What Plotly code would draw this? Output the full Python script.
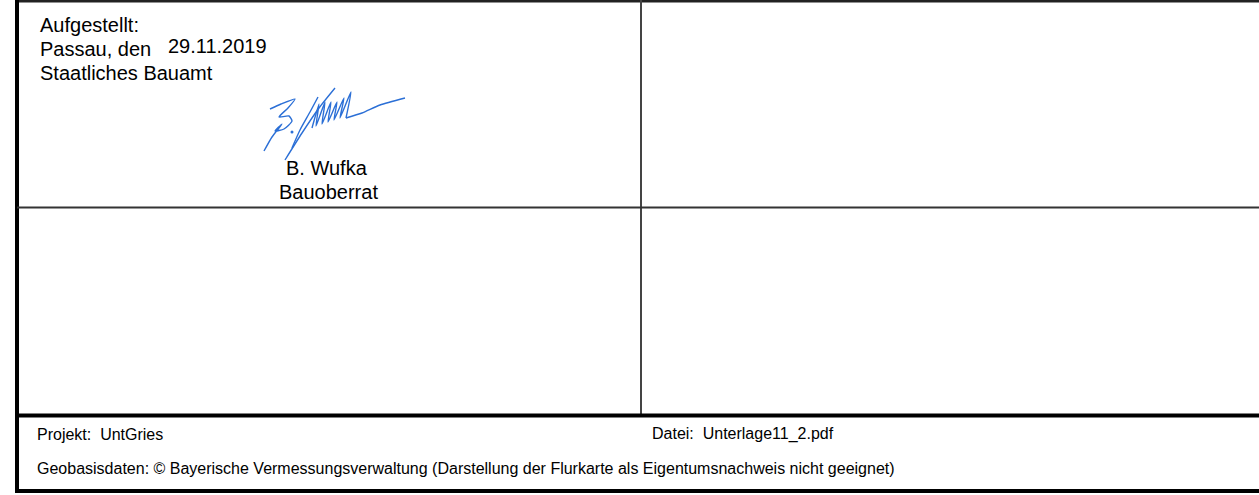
import plotly.graph_objects as go

W, H = 1259, 495

# Text content of the title block
header_lines = ["Aufgestellt:", "Passau, den", "Staatliches Bauamt"]
date_text = "29.11.2019"
signer_lines = ["B. Wufka", "Bauoberrat"]
project_label = "Projekt:  UntGries"
file_label = "Datei:  Unterlage11_2.pdf"
source_note = ("Geobasisdaten: © Bayerische Vermessungsverwaltung "
               "(Darstellung der Flurkarte als Eigentumsnachweis nicht geeignet)")

# Signature strokes (hand-drawn polyline traces, pixel space)
sig_b_x = [270, 281, 295, 288, 279, 289, 292, 284, 275, 282, 272, 264]
sig_b_y = [109, 104, 99, 108, 117, 116, 121, 129, 131, 124, 137, 151]
sig_j1_x = [335, 319, 302, 285]
sig_j1_y = [88, 108, 133, 160]
sig_j2_x = [318, 310, 300, 292]
sig_j2_y = [97, 112, 130, 148]
sig_u_x = [312, 319, 316, 325, 322, 331, 328, 337, 334, 344, 340, 351, 346]
sig_u_y = [128, 104, 126, 102, 124, 102, 122, 102, 120, 98, 118, 92, 118]
sig_t_x = [346, 362, 380, 405]
sig_t_y = [118, 113, 105, 98]
sig_dot_x = [292]
sig_dot_y = [132]

fig = go.Figure()
sig_color = "#2b6fd6"
for xs, ys in [(sig_b_x, sig_b_y), (sig_j1_x, sig_j1_y), (sig_j2_x, sig_j2_y),
               (sig_u_x, sig_u_y), (sig_t_x, sig_t_y)]:
    fig.add_trace(go.Scatter(x=xs, y=ys, mode="lines",
                             line=dict(color=sig_color, width=1.4, shape="spline", smoothing=0.6),
                             hoverinfo="skip", showlegend=False))
fig.add_trace(go.Scatter(x=sig_dot_x, y=sig_dot_y, mode="markers",
                         marker=dict(color=sig_color, size=3), hoverinfo="skip", showlegend=False))

# Frame lines
left_x = 17
mid_x = 641
row1_y = 207.5
row2_y = 415.5
bottom_y = 491
shapes = [
    dict(type="line", x0=left_x - 2, x1=W, y0=1, y1=1, line=dict(color="#222", width=3)),
    dict(type="line", x0=left_x, x1=left_x, y0=0, y1=bottom_y + 2, line=dict(color="#000", width=4)),
    dict(type="line", x0=mid_x, x1=mid_x, y0=0, y1=row2_y, line=dict(color="#444", width=2)),
    dict(type="line", x0=left_x, x1=W, y0=row1_y, y1=row1_y, line=dict(color="#333", width=2)),
    dict(type="line", x0=left_x - 2, x1=W, y0=row2_y, y1=row2_y, line=dict(color="#000", width=4)),
    dict(type="line", x0=left_x - 2, x1=W, y0=bottom_y, y1=bottom_y, line=dict(color="#000", width=4)),
]

font = "Liberation Sans, Arial, sans-serif"
ann = []
def add_text(txt, x, y, size, xanchor="left"):
    ann.append(dict(text=txt, x=x, y=y, xref="x", yref="y", showarrow=False,
                    xanchor=xanchor, yanchor="middle",
                    font=dict(family=font, size=size, color="#000")))

add_text(header_lines[0], 38, 24.5, 20)
add_text(header_lines[1], 38, 48.5, 20)
add_text(date_text, 166, 46, 20)
add_text(header_lines[2], 38, 72.5, 20)
add_text(signer_lines[0], 327, 167.5, 20, "center")
add_text(signer_lines[1], 328, 192, 20, "center")
add_text(project_label, 35, 434, 16)
add_text(file_label, 650, 434, 16)
add_text(source_note, 35, 468, 16)

fig.update_layout(
    width=W, height=H, margin=dict(l=0, r=0, t=0, b=0),
    paper_bgcolor="white", plot_bgcolor="white",
    xaxis=dict(range=[0, W], visible=False, fixedrange=True),
    yaxis=dict(range=[H, 0], visible=False, fixedrange=True),
    shapes=shapes, annotations=ann, showlegend=False,
)
fig.write_html("out.html", config={"displayModeBar": False},
               post_script="document.body.style.margin='0';document.body.style.overflow='hidden';")
